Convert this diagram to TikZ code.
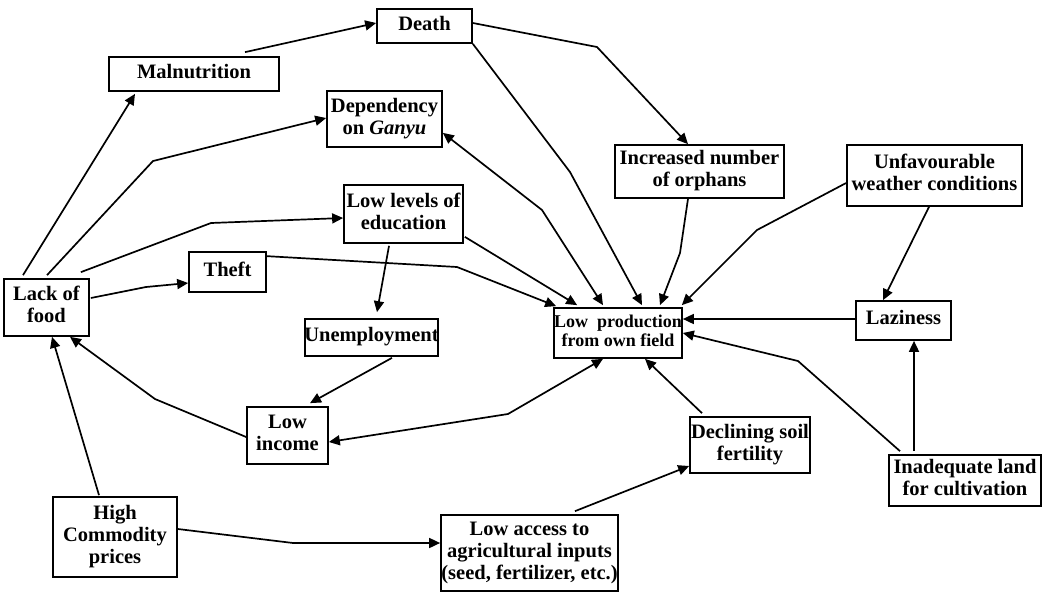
\documentclass[tikz,border=0pt]{standalone}
\usepackage{fontspec}
\setmainfont{Liberation Serif}
\usetikzlibrary{arrows.meta,calc}
\newcommand{\bx}[1]{\makebox[0pt]{\begin{tabular}{@{}c@{}}#1\end{tabular}}}
\begin{document}
\begin{tikzpicture}[x=1pt,y=-1pt,line width=1.7pt,
  box/.style={draw,line width=1.7pt,inner sep=0pt,font=\fontsize{20.5}{21.7}\selectfont\bfseries},
  arr/.style={-{Triangle[length=11pt,width=10pt]}},
  darr/.style={{Triangle[length=11pt,width=10pt]}-{Triangle[length=11pt,width=10pt]}}]
\fill[white] (0,0) rectangle (1053,592);
\useasboundingbox (0,0) rectangle (1053,592);
% nodes
\node[box,minimum width=95pt,minimum height=34pt] (death) at (424.5,26) {\bx{Death}};
\node[box,minimum width=170pt,minimum height=34pt] (mal) at (194,74) {\bx{Malnutrition}};
\node[box,minimum width=115pt,minimum height=56pt] (dep) at (384.5,119) {\bx{Dependency\\on \textit{Ganyu}}};
\node[box,minimum width=119pt,minimum height=58pt] (edu) at (403.5,214) {\bx{Low levels of\\education}};
\node[box,minimum width=77pt,minimum height=40pt] (theft) at (227.5,272) {\bx{Theft}};
\node[box,minimum width=85pt,minimum height=57pt] (lack) at (46.5,307.5) {\bx{Lack of\\food}};
\node[box,minimum width=169pt,minimum height=53pt] (orph) at (699.5,171.5) {\bx{Increased number\\of orphans}};
\node[box,minimum width=175pt,minimum height=61pt] (weath) at (934.5,175.5) {\bx{Unfavourable\\weather conditions}};
\node[box,minimum width=133pt,minimum height=37pt] (unemp) at (371.5,337.5) {\bx{Unemployment}};
\node[box,minimum width=81pt,minimum height=57pt] (inc) at (287.5,435.5) {\bx{Low\\income}};
\node[box,minimum width=124pt,minimum height=80pt] (high) at (115,537) {\bx{High\\Commodity\\prices}};
\node[box,minimum width=177pt,minimum height=76pt] (acc) at (529.5,553) {\bx{Low access to\\agricultural inputs\\(seed, fertilizer, etc.)}};
\node[box,minimum width=128pt,minimum height=50pt,font=\fontsize{18}{19.5}\selectfont\bfseries] (prod) at (618,333) {\bx{Low\ \ production\\from own field}};
\node[box,minimum width=95pt,minimum height=39pt] (lazy) at (903.5,320.5) {\bx{Laziness}};
\node[box,minimum width=120pt,minimum height=56pt] (soil) at (750,445) {\bx{Declining soil\\fertility}};
\node[box,minimum width=152pt,minimum height=51pt] (land) at (965,480.5) {\bx{Inadequate land\\for cultivation}};
% waypoints
\coordinate (w3) at (153,161);
\coordinate (w4) at (211,223);
\coordinate (w5) at (146,287);
\coordinate (w6) at (457,267);
\coordinate (w8) at (542,210);
\coordinate (w9) at (570,172);
\coordinate (w10) at (597,47);
\coordinate (w11) at (680,253);
\coordinate (w12) at (757,230);
\coordinate (w16) at (798,361);
\coordinate (w19) at (293,543);
\coordinate (w21) at (155,399);
\coordinate (w22) at (508,414);
% connectors
\draw[arr] ($(mal.north)+(51,-4)$) -- ($(death.west)+(0,-3)$);
\draw[arr] ($(lack.north)+(-23.5,-3)$) -- ($(mal.south)+(-59,2)$);
\draw[arr] ($(lack.north)+(0.5,-3)$) -- (w3) -- ($(dep.west)+(0,-1)$);
\draw[arr] ($(lack.north east)+(-9,-6)$) -- (w4) -- ($(edu.west)+(0,4)$);
\draw[arr] ($(lack.east)+(1,-9.5)$) -- (w5) -- ($(theft.west)+(0,11)$);
\draw[arr] ($(theft.north east)+(0,5)$) -- (w6) -- ($(prod.north west)+(3,-1)$);
\draw[arr] ($(edu.south east)+(1,-7)$) -- ($(prod.north west)+(24,-2)$);
\draw[darr] ($(dep.south east)+(0,-15)$) -- (w8) -- ($(prod.north)+(-15,-2)$);
\draw[arr] (death.south east) -- (w9) -- ($(prod.north)+(24,-2)$);
\draw[arr] ($(death.east)+(0,-3)$) -- (w10) -- ($(orph.north)+(-11.5,0)$);
\draw[arr] ($(orph.south)+(-11.5,0)$) -- (w11) -- ($(prod.north)+(42,-2)$);
\draw[arr] ($(weath.west)+(0,7.5)$) -- (w12) -- ($(prod.north east)+(-1,-2)$);
\draw[arr] ($(weath.south)+(-5.5,0)$) -- ($(lazy.north)+(-20.5,0)$);
\draw[arr] ($(lazy.west)+(0,-1.5)$) -- ($(prod.east)+(0,-14)$);
\draw[arr] ($(land.north)+(-51,-3)$) -- ($(lazy.south)+(10.5,0)$);
\draw[arr] ($(land.north)+(-65,-3)$) -- (w16) -- (prod.east);
\draw[arr] ($(soil.north)+(-48,-3)$) -- ($(prod.south)+(27,0)$);
\draw[arr] ($(acc.north)+(45.5,-3)$) -- ($(soil.west)+(0,21)$);
\draw[arr] ($(high.east)+(0,-8)$) -- (w19) -- ($(acc.west)+(0,-10)$);
\draw[arr] ($(high.north)+(-16,-1)$) -- ($(lack.south)+(5.5,0)$);
\draw[arr] ($(inc.west)+(0,1.5)$) -- (w21) -- ($(lack.south)+(23.5,0)$);
\draw[darr] ($(inc.east)+(0,6.5)$) -- (w22) -- ($(prod.south)+(-15,0)$);
\draw[arr] ($(edu.south)+(-14.5,2)$) -- ($(unemp.north)+(5.5,-6)$);
\draw[arr] ($(unemp.south)+(20.5,1)$) -- ($(inc.north)+(22.5,-3)$);
\end{tikzpicture}
\end{document}
